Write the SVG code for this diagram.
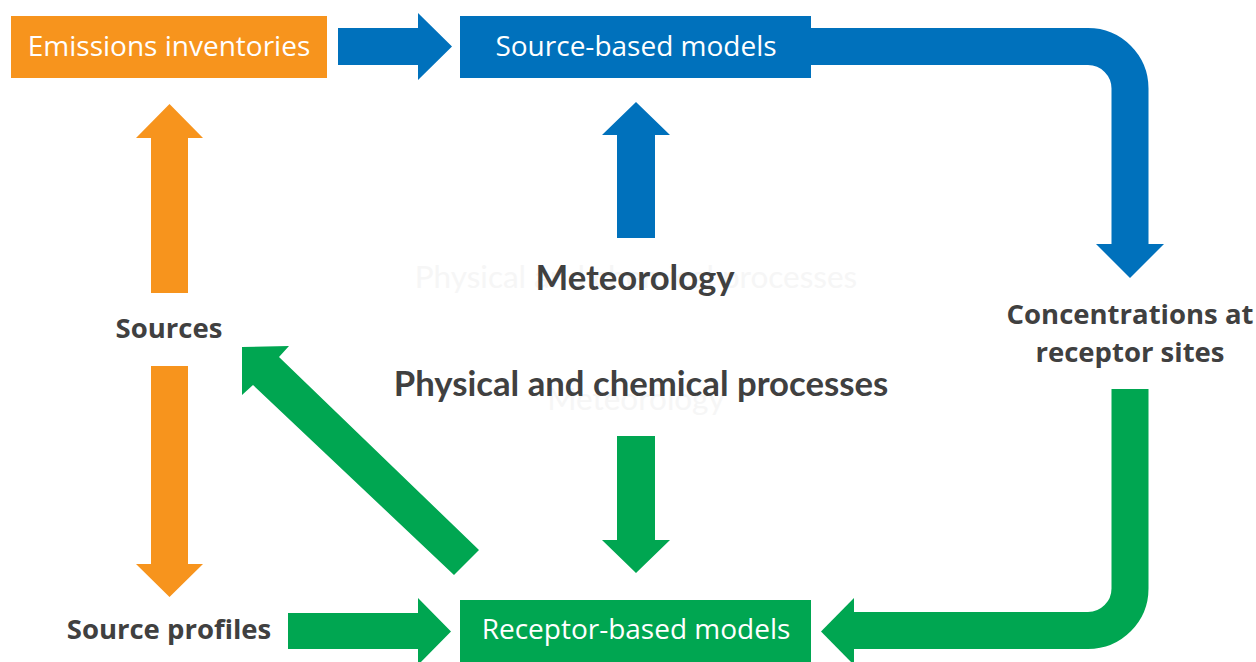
<svg xmlns="http://www.w3.org/2000/svg" width="1256" height="662" viewBox="0 0 1256 662">
<style>
.box-t{font-family:"Open Sans","Liberation Sans",sans-serif;font-size:28px;fill:#ffffff;text-anchor:middle}
.lbl{font-family:"Open Sans","Liberation Sans",sans-serif;font-size:27.5px;font-weight:bold;fill:#404040;text-anchor:middle}
.proc{font-family:"Lato","Liberation Sans",sans-serif;font-size:34.7px;font-weight:bold;fill:#404040;text-anchor:middle}
.ghost{font-family:"Lato","Liberation Sans",sans-serif;font-size:31.5px;fill:#f6f6f6;text-anchor:middle}
.orange{fill:#F7941D}
.blue{fill:#0071BC}
.green{fill:#00A651}
</style>
<rect width="1256" height="662" fill="#ffffff"/>
<g id="ghost-texts">
<text class="ghost" x="636" y="288">Physical and chemical processes</text>
<text class="ghost" x="636" y="410">Meteorology</text>
</g>
<g id="connectors">
<polygon class="blue" points="338,28 418,28 418,13 452,46.5 418,80 418,65 338,65"/>
<path d="M811,46.5 H1088 A42,42 0 0 1 1130,88.5 V245" fill="none" stroke="#0071BC" stroke-width="37"/>
<polygon class="blue" points="1096,244 1164,244 1130,278"/>
<polygon class="blue" points="617,238 617,135 602,135 636,102 670,135 655,135 655,238"/>
<polygon class="orange" points="151,293 151,138 136,138 169.5,104 203,138 188,138 188,293"/>
<polygon class="orange" points="151,366 188,366 188,564 203,564 169.5,597 136,564 151,564"/>
<polygon class="green" points="288,613 418,613 418,598 451,631.5 418,665 418,649 288,649"/>
<polygon class="green" points="617,436 655,436 655,540 670,540 636,573 602,540 617,540"/>
<polygon class="green" points="479,550 279,357 289,346 242,347 242,395 253,385 454,575"/>
<path d="M1130,389 V588.5 A42,42 0 0 1 1088,630.5 H852" fill="none" stroke="#00A651" stroke-width="37"/>
<polygon class="green" points="854,598 854,665 821,631.5"/>
</g>
<g id="emissions-inventories">
<rect class="orange" x="11" y="16" width="316" height="62"/>
<text class="box-t" x="169" y="56">Emissions inventories</text>
</g>
<g id="source-based-models">
<rect class="blue" x="460" y="16" width="351" height="62"/>
<text class="box-t" x="636" y="56">Source-based models</text>
</g>
<g id="receptor-based-models">
<rect class="green" x="460" y="600" width="351" height="62"/>
<text class="box-t" x="636" y="639">Receptor-based models</text>
</g>
<g id="meteorology">
<text class="proc" x="635" y="290">Meteorology</text>
</g>
<g id="physical-chemical-processes">
<text class="proc" x="641" y="396">Physical and chemical processes</text>
</g>
<g id="sources">
<text class="lbl" x="169" y="338">Sources</text>
</g>
<g id="source-profiles">
<text class="lbl" x="169" y="639">Source profiles</text>
</g>
<g id="concentrations">
<text class="lbl" x="1130" y="324">Concentrations at</text>
<text class="lbl" x="1130" y="362">receptor sites</text>
</g>
</svg>
